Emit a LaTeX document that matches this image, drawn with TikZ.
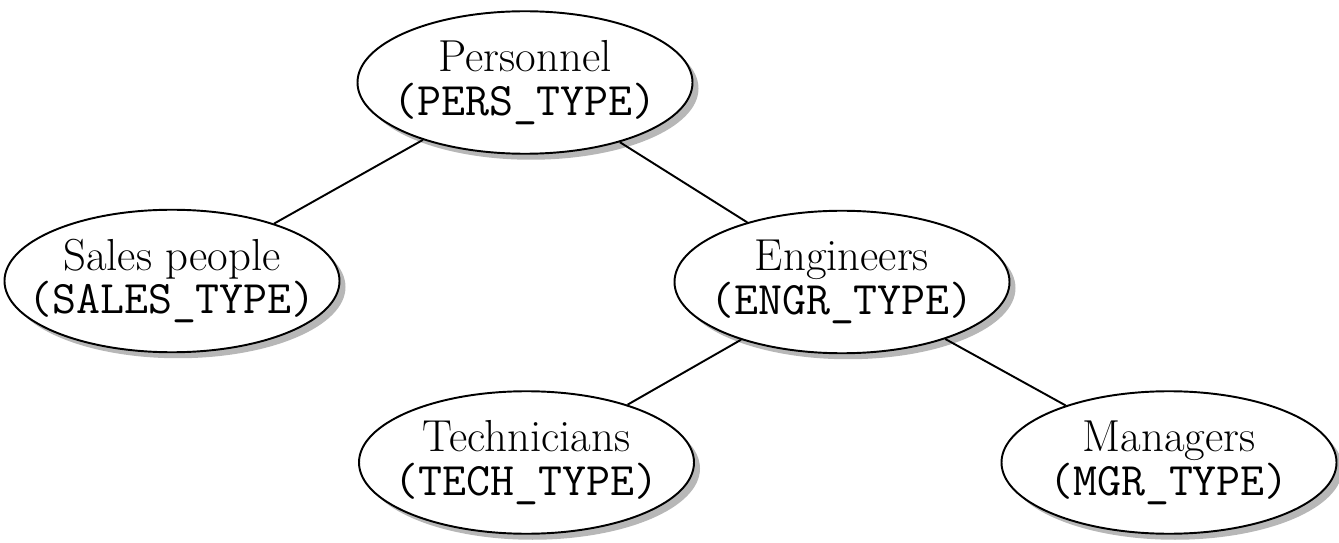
\documentclass[tikz,border=0pt]{standalone}
\usepackage{tikz}
\usetikzlibrary{shapes.geometric,shadows}

\newcommand{\tname}[1]{{\fontsize{26.5}{25}\ttfamily #1}}

\begin{document}
\begin{tikzpicture}[
  typenode/.style={ellipse, draw, line width=1.1pt, fill=white, minimum width=6.7cm, minimum height=2.85cm,
    inner xsep=-1cm, inner ysep=-0.3cm, align=center,
    font=\fontsize{25.5}{25}\selectfont,
    drop shadow={shadow xshift=0.12cm, shadow yshift=-0.12cm, fill=black!40, opacity=0.7}},
  link/.style={line width=1.1pt}
]
\useasboundingbox (0,0) rectangle (26.78,-10.86);
\node[typenode] (pers) at (10.5,-1.65) {Personnel\\\tname{(PERS\_TYPE)}};
\node[typenode] (sales) at (3.44,-5.62) {Sales people\\\tname{(SALES\_TYPE)}};
\node[typenode] (engr) at (16.84,-5.64) {Engineers\\\tname{(ENGR\_TYPE)}};
\node[typenode] (tech) at (10.53,-9.25) {Technicians\\\tname{(TECH\_TYPE)}};
\node[typenode] (mgr) at (23.38,-9.25) {Managers\\\tname{(MGR\_TYPE)}};

\draw[link] (pers) -- (sales);
\draw[link] (pers) -- (engr);
\draw[link] (engr) -- (tech);
\draw[link] (engr) -- (mgr);
\end{tikzpicture}
\end{document}
